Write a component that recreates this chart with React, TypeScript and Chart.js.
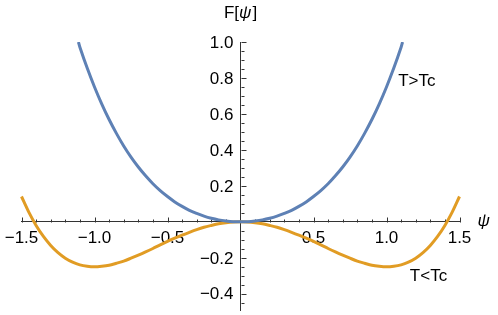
import React, { useEffect, useRef } from "react";
import { Chart, registerables } from "chart.js";

Chart.register(...registerables);

// ---- data ----
const psiLow = [
  -1.5, -1.45, -1.4, -1.35, -1.3, -1.25, -1.2, -1.15, -1.1, -1.05, -1.0,
  -0.95, -0.9, -0.85, -0.8, -0.75, -0.7, -0.65, -0.6, -0.55, -0.5,
  -0.45, -0.4, -0.35, -0.3, -0.25, -0.2, -0.15, -0.1, -0.05, 0,
  0.05, 0.1, 0.15, 0.2, 0.25, 0.3, 0.35, 0.4, 0.45, 0.5,
  0.55, 0.6, 0.65, 0.7, 0.75, 0.8, 0.85, 0.9, 0.95, 1.0,
  1.05, 1.1, 1.15, 1.2, 1.25, 1.3, 1.35, 1.4, 1.45, 1.5,
];
const fLow = [
  0.141, 0.054, -0.02, -0.081, -0.131, -0.171, -0.202, -0.224, -0.239, -0.247, -0.25,
  -0.247, -0.241, -0.23, -0.218, -0.202, -0.185, -0.167, -0.148, -0.128, -0.109,
  -0.091, -0.074, -0.058, -0.043, -0.03, -0.02, -0.011, -0.005, -0.001, 0,
  -0.001, -0.005, -0.011, -0.02, -0.03, -0.043, -0.058, -0.074, -0.091, -0.109,
  -0.128, -0.148, -0.167, -0.185, -0.202, -0.218, -0.23, -0.241, -0.247, -0.25,
  -0.247, -0.239, -0.224, -0.202, -0.171, -0.131, -0.081, -0.02, 0.054, 0.141,
];
const psiHigh = [
  -1.11, -1.1, -1.05, -1.0, -0.95, -0.9, -0.85, -0.8, -0.75, -0.7, -0.65, -0.6,
  -0.55, -0.5, -0.45, -0.4, -0.35, -0.3, -0.25, -0.2, -0.15, -0.1, -0.05, 0,
  0.05, 0.1, 0.15, 0.2, 0.25, 0.3, 0.35, 0.4, 0.45, 0.5, 0.55,
  0.6, 0.65, 0.7, 0.75, 0.8, 0.85, 0.9, 0.95, 1.0, 1.05, 1.1, 1.11,
];
const fHigh = [
  1.0, 0.971, 0.855, 0.75, 0.655, 0.569, 0.492, 0.422, 0.36, 0.305, 0.256, 0.212,
  0.174, 0.141, 0.111, 0.086, 0.064, 0.047, 0.032, 0.02, 0.011, 0.005, 0.001, 0,
  0.001, 0.005, 0.011, 0.02, 0.032, 0.047, 0.064, 0.086, 0.111, 0.141, 0.174,
  0.212, 0.256, 0.305, 0.36, 0.422, 0.492, 0.569, 0.655, 0.75, 0.855, 0.971, 1.0,
];

const xTickValues = [-1.5, -1.0, -0.5, 0.5, 1.0, 1.5];
const yTickValues = [-0.4, -0.2, 0.2, 0.4, 0.6, 0.8, 1.0];
const xMinorTicks = [
  -1.4, -1.3, -1.2, -1.1, -0.9, -0.8, -0.7, -0.6, -0.4, -0.3, -0.2, -0.1,
  0.1, 0.2, 0.3, 0.4, 0.6, 0.7, 0.8, 0.9, 1.1, 1.2, 1.3, 1.4,
];
const yMinorTicks = [
  -0.45, -0.35, -0.3, -0.25, -0.15, -0.1, -0.05, 0.05, 0.1, 0.15, 0.25, 0.3,
  0.35, 0.45, 0.5, 0.55, 0.65, 0.7, 0.75, 0.85, 0.9, 0.95,
];

const BLUE = "#5e81b5";
const ORANGE = "#e19c24";
const AXIS = "#333333";
const FONT = "'Liberation Sans', Arial, sans-serif";
const FONT_SIZE = 17;

const fmt = (v: number) => {
  const s = Math.abs(v).toFixed(1);
  return v < 0 ? "\u2212" + s : s;
};

const zeroPad = (s: any) => {
  s.paddingLeft = 0;
  s.paddingRight = 0;
  s.paddingTop = 0;
  s.paddingBottom = 0;
  if (s.isHorizontal()) s.height = 0;
  else s.width = 0;
};

const decorPlugin = {
  id: "decor",
  beforeDatasetsDraw(chart: any) {
    const { ctx } = chart;
    const xs = chart.scales.x;
    const ys = chart.scales.y;
    const x0 = Math.round(xs.getPixelForValue(0)) + 0.5;
    const y0 = Math.round(ys.getPixelForValue(0)) + 0.5;
    ctx.save();
    ctx.strokeStyle = AXIS;
    ctx.lineWidth = 1;
    ctx.beginPath();
    const xt = (v: number, len: number) => {
      const p = Math.round(xs.getPixelForValue(v)) + 0.5;
      ctx.moveTo(p, y0);
      ctx.lineTo(p, y0 - len);
    };
    const yt = (v: number, len: number) => {
      const p = Math.round(ys.getPixelForValue(v)) + 0.5;
      ctx.moveTo(x0, p);
      ctx.lineTo(x0 + len, p);
    };
    xTickValues.forEach((v) => xt(v, 5));
    xMinorTicks.forEach((v) => xt(v, 3));
    yTickValues.forEach((v) => yt(v, 5));
    yMinorTicks.forEach((v) => yt(v, 3));
    ctx.stroke();

    // y tick labels, to the left of the axis through x = 0
    ctx.fillStyle = "#000";
    ctx.font = `${FONT_SIZE}px ${FONT}`;
    ctx.textAlign = "right";
    ctx.textBaseline = "middle";
    yTickValues.forEach((v) => {
      ctx.fillText(fmt(v), x0 - 8, ys.getPixelForValue(v) + 1);
    });
    ctx.restore();
  },
  afterDraw(chart: any) {
    const { ctx } = chart;
    const xs = chart.scales.x;
    const ys = chart.scales.y;
    const x0 = xs.getPixelForValue(0);
    const y0 = ys.getPixelForValue(0);
    ctx.save();
    ctx.fillStyle = "#000";
    ctx.textBaseline = "middle";
    const normal = `${FONT_SIZE}px ${FONT}`;
    const italic = `italic ${FONT_SIZE}px ${FONT}`;
    ctx.font = normal;
    ctx.textAlign = "left";
    ctx.fillText("T>Tc", xs.getPixelForValue(1.08), ys.getPixelForValue(0.78));
    ctx.fillText("T<Tc", xs.getPixelForValue(1.16), ys.getPixelForValue(-0.3));

    // axis label F[ψ] centred over the vertical axis
    const parts: [string, string][] = [
      ["F[", normal],
      ["\u03c8", italic],
      ["]", normal],
    ];
    let total = 0;
    parts.forEach(([t, f]) => {
      ctx.font = f;
      total += ctx.measureText(t).width + (t === "\u03c8" ? 1 : 0);
    });
    let cx = x0 - total / 2;
    parts.forEach(([t, f]) => {
      ctx.font = f;
      ctx.fillText(t, cx, 13);
      cx += ctx.measureText(t).width + (t === "\u03c8" ? 1 : 0);
    });

    // axis label ψ at the right end of the horizontal axis
    ctx.font = italic;
    ctx.fillText("\u03c8", xs.getPixelForValue(1.5) + 18, y0 - 1);
    ctx.restore();
  },
};

export default function App() {
  const ref = useRef<HTMLCanvasElement | null>(null);
  useEffect(() => {
    if (!ref.current) return;
    const chart = new Chart(ref.current, {
      type: "line",
      data: {
        datasets: [
          {
            label: "T>Tc",
            data: psiHigh.map((x, i) => ({ x, y: fHigh[i] })),
            borderColor: BLUE,
            borderWidth: 3,
            pointRadius: 0,
            tension: 0.3,
            borderCapStyle: "butt",
            clip: { left: 3, right: 3, top: 0, bottom: 3 },
          },
          {
            label: "T<Tc",
            data: psiLow.map((x, i) => ({ x, y: fLow[i] })),
            borderColor: ORANGE,
            borderWidth: 3,
            pointRadius: 0,
            tension: 0.3,
            borderCapStyle: "butt",
            clip: { left: 3, right: 3, top: 0, bottom: 3 },
          },
        ],
      },
      options: {
        animation: false,
        responsive: false,
        events: [],
        layout: { padding: { left: 21.5, right: 38.5, top: 42, bottom: 5 } },
        plugins: { legend: { display: false }, tooltip: { enabled: false } },
        scales: {
          x: {
            type: "linear",
            min: -1.5,
            max: 1.5,
            position: { y: 0 },
            afterBuildTicks: (s: any) => {
              s.ticks = xTickValues.map((v) => ({ value: v }));
            },
            afterFit: zeroPad,
            grid: { display: false, drawTicks: false },
            border: { display: true, color: AXIS, width: 1 },
            ticks: {
              padding: 6,
              color: "#000",
              font: { family: FONT, size: FONT_SIZE },
              maxRotation: 0,
              autoSkip: false,
              callback: (v: any) => fmt(Number(v)),
            },
          },
          y: {
            type: "linear",
            min: -0.49,
            max: 1.0,
            position: { x: 0 },
            afterBuildTicks: (s: any) => {
              s.ticks = yTickValues.map((v) => ({ value: v }));
            },
            afterFit: zeroPad,
            grid: { display: false, drawTicks: false },
            border: { display: true, color: AXIS, width: 1 },
            ticks: { display: false },
          },
        },
      },
      plugins: [decorPlugin],
    } as any);
    return () => chart.destroy();
  }, []);
  return (
    <div style={{ position: "absolute", left: 0, top: 0, width: 498, height: 315, background: "#fff" }}>
      <canvas ref={ref} width={498} height={315} />
    </div>
  );
}
